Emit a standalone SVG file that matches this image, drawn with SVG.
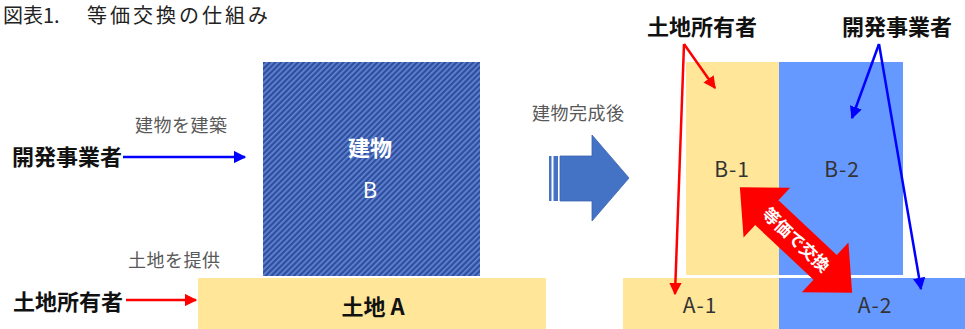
<svg xmlns="http://www.w3.org/2000/svg" width="965" height="329" viewBox="0 0 965 329">
<style>
.t{font-family:"Noto Sans CJK JP","Noto Sans",sans-serif;}
.lbl{font-family:"Noto Sans CJK JP",sans-serif;font-size:18px;fill:#595959;letter-spacing:0.5px;}
.who{font-family:"Noto Sans CJK JP",sans-serif;font-size:22px;font-weight:bold;fill:#111;}
.code{font-family:"Noto Sans CJK JP","Noto Sans",sans-serif;font-size:21px;fill:#333;text-anchor:middle;letter-spacing:1px;}
.red{stroke:#FF0000;stroke-width:2.5;fill:none;}
.blue{stroke:#0000FF;stroke-width:2.5;fill:none;}
</style>
<defs>
<pattern id="hatch" patternUnits="userSpaceOnUse" width="4" height="4" patternTransform="rotate(-45)">
<rect width="4" height="4" fill="#2E4F9E"/>
<rect width="4" height="1.6" fill="#6688D6"/>
</pattern>
<marker id="ar" viewBox="0 0 10 10" refX="9" refY="5" markerWidth="5" markerHeight="5" orient="auto" markerUnits="strokeWidth">
<path d="M0,0 L10,5 L0,10 z" fill="#FF0000"/>
</marker>
<marker id="ab" viewBox="0 0 10 10" refX="9" refY="5" markerWidth="5" markerHeight="5" orient="auto" markerUnits="strokeWidth">
<path d="M0,0 L10,5 L0,10 z" fill="#0000FF"/>
</marker>
</defs>
<rect width="965" height="329" fill="#FFFFFF"/>

<g id="title">
<text class="t" x="3" y="23" font-size="20" fill="#222">図表1.<tspan x="87" letter-spacing="3">等価交換の仕組み</tspan></text>
</g>

<g id="developer-left"><text class="who" x="12" y="165">開発事業者</text></g>
<g id="owner-left"><text class="who" x="13" y="310">土地所有者</text></g>
<g id="label-build"><text class="lbl" x="135" y="132">建物を建築</text></g>
<g id="label-land"><text class="lbl" x="128" y="267">土地を提供</text></g>

<g id="building-B">
<rect x="263" y="62" width="217" height="214" fill="url(#hatch)"/>
<text class="t" x="370" y="156" font-size="22" font-weight="bold" fill="#FFFFFF" text-anchor="middle">建物</text>
<text class="t" x="370" y="198" font-size="22" fill="#FFFFFF" text-anchor="middle">B</text>
</g>

<g id="land-A">
<rect x="198" y="278" width="348" height="51" fill="#FFE699"/>
<text class="t" x="373" y="315" font-size="22" font-weight="bold" fill="#111" text-anchor="middle">土地 A</text>
</g>

<g id="label-after"><text class="lbl" x="532" y="120">建物完成後</text></g>

<g id="big-arrow">
<rect x="549" y="156" width="2.5" height="45" fill="#4472C4"/>
<rect x="553.5" y="156" width="4.5" height="45" fill="#4472C4"/>
<path d="M560,156 L592,156 L592,135 L629,178 L592,221 L592,201 L560,201 Z" fill="#4472C4" stroke="#3A62AE" stroke-width="0.8"/>
</g>

<g id="owner-right"><text class="who" x="647" y="35">土地所有者</text></g>
<g id="developer-right"><text class="who" x="842" y="35">開発事業者</text></g>

<g id="B-1">
<rect x="686" y="62" width="93" height="213" fill="#FFE699"/>
<text class="code" x="732" y="177">B-1</text>
</g>
<g id="B-2">
<rect x="779" y="62" width="124" height="213" fill="#6699FF"/>
<text class="code" x="842" y="177">B-2</text>
</g>
<g id="A-1">
<rect x="623" y="278" width="156" height="51" fill="#FFE699"/>
<text class="code" x="700" y="313">A-1</text>
</g>
<g id="A-2">
<rect x="779" y="278" width="186" height="51" fill="#6699FF"/>
<text class="code" x="875" y="313">A-2</text>
</g>

<g id="exchange-arrow" transform="translate(796,240) rotate(43.2)">
<polygon points="-77,0 -40,-34 -40,-17 40,-17 40,-34 77,0 40,34 40,17 -40,17 -40,34" fill="#FF0000"/>
<text class="t" x="0" y="6" font-size="17" font-weight="bold" fill="#FFFFFF" text-anchor="middle">等価で交換</text>
</g>

<g id="connectors">
<line class="blue" x1="123" y1="157" x2="245" y2="157" marker-end="url(#ab)"/>
<line class="red" x1="126" y1="300" x2="196" y2="300" marker-end="url(#ar)"/>
<line class="red" x1="684" y1="44" x2="715" y2="88" marker-end="url(#ar)"/>
<line class="red" x1="684" y1="44" x2="675" y2="294" marker-end="url(#ar)"/>
<line class="blue" x1="879" y1="44" x2="852" y2="118" marker-end="url(#ab)"/>
<line class="blue" x1="879" y1="44" x2="921" y2="289" marker-end="url(#ab)"/>
</g>
</svg>
